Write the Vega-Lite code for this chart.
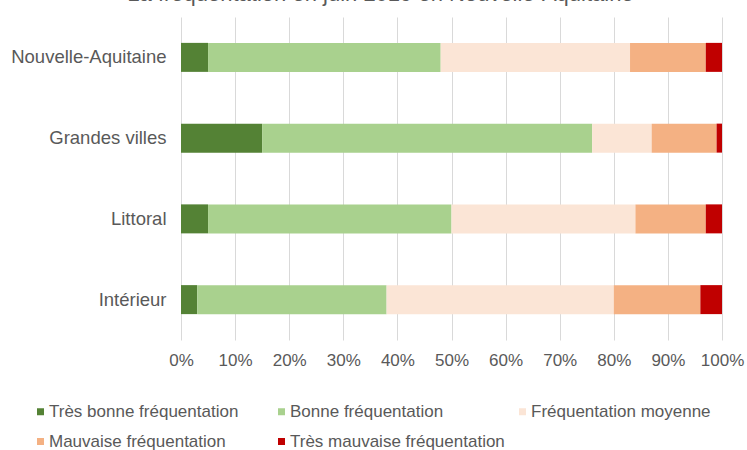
{
  "$schema": "https://vega.github.io/schema/vega-lite/v6.json",
  "width": 541,
  "height": 323,
  "autosize": "none",
  "padding": {"left": 181, "top": 17, "right": 25, "bottom": 110},
  "background": "white",
  "title": {
    "text": "La fréquentation en juin 2019 en Nouvelle-Aquitaine",
    "font": "Liberation Sans",
    "fontSize": 22,
    "fontWeight": "normal",
    "color": "#595959",
    "anchor": "middle",
    "dx": -71,
    "offset": 11
  },
  "data": {
    "values": [
      {"zone": "Nouvelle-Aquitaine", "cat": "Très bonne fréquentation", "o": 1, "v": 5},
      {"zone": "Nouvelle-Aquitaine", "cat": "Bonne fréquentation", "o": 2, "v": 43},
      {"zone": "Nouvelle-Aquitaine", "cat": "Fréquentation moyenne", "o": 3, "v": 35},
      {"zone": "Nouvelle-Aquitaine", "cat": "Mauvaise fréquentation", "o": 4, "v": 14},
      {"zone": "Nouvelle-Aquitaine", "cat": "Très mauvaise fréquentation", "o": 5, "v": 3},
      {"zone": "Grandes villes", "cat": "Très bonne fréquentation", "o": 1, "v": 15},
      {"zone": "Grandes villes", "cat": "Bonne fréquentation", "o": 2, "v": 61},
      {"zone": "Grandes villes", "cat": "Fréquentation moyenne", "o": 3, "v": 11},
      {"zone": "Grandes villes", "cat": "Mauvaise fréquentation", "o": 4, "v": 12},
      {"zone": "Grandes villes", "cat": "Très mauvaise fréquentation", "o": 5, "v": 1},
      {"zone": "Littoral", "cat": "Très bonne fréquentation", "o": 1, "v": 5},
      {"zone": "Littoral", "cat": "Bonne fréquentation", "o": 2, "v": 45},
      {"zone": "Littoral", "cat": "Fréquentation moyenne", "o": 3, "v": 34},
      {"zone": "Littoral", "cat": "Mauvaise fréquentation", "o": 4, "v": 13},
      {"zone": "Littoral", "cat": "Très mauvaise fréquentation", "o": 5, "v": 3},
      {"zone": "Intérieur", "cat": "Très bonne fréquentation", "o": 1, "v": 3},
      {"zone": "Intérieur", "cat": "Bonne fréquentation", "o": 2, "v": 35},
      {"zone": "Intérieur", "cat": "Fréquentation moyenne", "o": 3, "v": 42},
      {"zone": "Intérieur", "cat": "Mauvaise fréquentation", "o": 4, "v": 16},
      {"zone": "Intérieur", "cat": "Très mauvaise fréquentation", "o": 5, "v": 4}
    ]
  },
  "mark": {"type": "bar", "size": 29},
  "encoding": {
    "y": {
      "field": "zone",
      "type": "nominal",
      "sort": ["Nouvelle-Aquitaine", "Grandes villes", "Littoral", "Intérieur"],
      "scale": {"paddingInner": 0, "paddingOuter": 0},
      "axis": {
        "title": null,
        "domain": false,
        "ticks": false,
        "labelPadding": 15,
        "labelFont": "Liberation Sans",
        "labelFontSize": 18.5,
        "labelColor": "#595959"
      }
    },
    "x": {
      "field": "v",
      "type": "quantitative",
      "stack": "zero",
      "scale": {"domain": [0, 100], "nice": false},
      "axis": {
        "title": null,
        "values": [0, 10, 20, 30, 40, 50, 60, 70, 80, 90, 100],
        "labelExpr": "datum.value + '%'",
        "domain": false,
        "ticks": false,
        "labelPadding": 12,
        "labelFont": "Liberation Sans",
        "labelFontSize": 17,
        "labelColor": "#595959",
        "gridColor": "#d9d9d9",
        "labelFlush": false
      }
    },
    "color": {
      "field": "cat",
      "type": "nominal",
      "scale": {
        "domain": ["Très bonne fréquentation", "Bonne fréquentation", "Fréquentation moyenne", "Mauvaise fréquentation", "Très mauvaise fréquentation"],
        "range": ["#548235", "#A9D18E", "#FBE5D6", "#F4B183", "#C00000"]
      },
      "legend": {
        "title": null,
        "orient": "none",
        "legendX": -149,
        "legendY": 386,
        "direction": "horizontal",
        "columns": 3,
        "gridAlign": "all",
        "columnPadding": 9,
        "rowPadding": 12,
        "symbolType": "square",
        "symbolSize": 49,
        "symbolStrokeWidth": 0,
        "labelFont": "Liberation Sans",
        "labelFontSize": 17,
        "labelColor": "#595959",
        "labelOffset": 0,
        "labelLimit": 400
      }
    },
    "order": {"field": "o", "type": "quantitative"}
  },
  "config": {"view": {"stroke": null}}
}
